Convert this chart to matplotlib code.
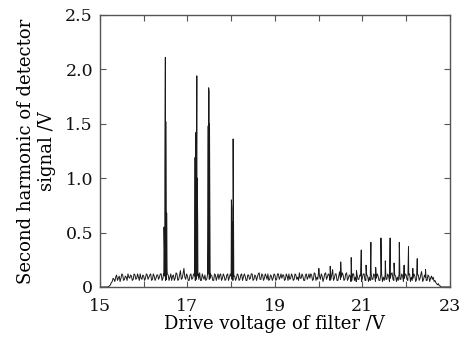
import numpy as np
import matplotlib
matplotlib.use("Agg")
import matplotlib.pyplot as plt

plt.rcParams['font.family'] = ['DejaVu Serif']

# Swept drive voltage (V) for the baseline record: two interleaved sample sets
base_x1 = np.linspace(15.0, 23.0, 201)
base_y1 = [
    0, 0, 0, 0, 0, 0.005, 0.02, 0.05, 0.07, 0.09,
    0.06, 0.10, 0.08, 0.11, 0.07, 0.09, 0.12, 0.08, 0.10, 0.07,
    0.11, 0.08, 0.09, 0.12, 0.07, 0.10, 0.08, 0.11, 0.09, 0.12,
    0.07, 0.10, 0.08, 0.11, 0.09, 0.12, 0.08, 0.10, 0.07, 0.11,
    0.09, 0.06, 0.11, 0.08, 0.12, 0.07, 0.15, 0.08, 0.17, 0.07,
    0.10, 0.06, 0.12, 0.08, 0.11, 0.07, 0.10, 0.13, 0.06, 0.09,
    0.11, 0.07, 0.12, 0.08, 0.10, 0.06, 0.11, 0.09, 0.07, 0.12,
    0.08, 0.10, 0.07, 0.12, 0.09, 0.11, 0.06, 0.10, 0.08, 0.11,
    0.07, 0.12, 0.09, 0.10, 0.06, 0.11, 0.08, 0.12, 0.07, 0.10,
    0.09, 0.13, 0.07, 0.11, 0.08, 0.10, 0.12, 0.07, 0.10, 0.08,
    0.11, 0.07, 0.12, 0.09, 0.08, 0.11, 0.07, 0.10, 0.12, 0.08,
    0.10, 0.07, 0.11, 0.09, 0.13, 0.08, 0.10, 0.06, 0.12, 0.09,
    0.08, 0.11, 0.07, 0.12, 0.09, 0.14, 0.07, 0.10, 0.08, 0.13,
    0.09, 0.11, 0.07, 0.16, 0.08, 0.12, 0.06, 0.14, 0.09, 0.11,
    0.07, 0.13, 0.08, 0.10, 0.06, 0.12, 0.09, 0.11, 0.07, 0.10,
    0.08, 0.12, 0.06, 0.10, 0.09, 0.13, 0.07, 0.11, 0.08, 0.10,
    0.06, 0.12, 0.09, 0.11, 0.07, 0.10, 0.08, 0.13, 0.06, 0.10,
    0.09, 0.12, 0.07, 0.10, 0.08, 0.11, 0.06, 0.12, 0.09, 0.08,
    0.10, 0.07, 0.11, 0.08, 0.12, 0.07, 0.09, 0.06, 0.10, 0.08,
    0.07, 0.05, 0.04, 0.02, 0.01, 0, 0, 0, 0, 0,
    0,
]
base_x2 = np.linspace(15.02, 22.98, 200)
base_y2 = [
    0, 0, 0, 0, 0, 0.01, 0.04, 0.08, 0.05, 0.11,
    0.08, 0.05, 0.12, 0.06, 0.10, 0.06, 0.09, 0.11, 0.06, 0.12,
    0.07, 0.12, 0.06, 0.08, 0.11, 0.06, 0.12, 0.07, 0.11, 0.06,
    0.12, 0.06, 0.11, 0.07, 0.12, 0.06, 0.11, 0.06, 0.12, 0.06,
    0.12, 0.10, 0.06, 0.13, 0.06, 0.11, 0.07, 0.12, 0.09, 0.12,
    0.06, 0.11, 0.07, 0.12, 0.06, 0.12, 0.07, 0.06, 0.12, 0.07,
    0.06, 0.12, 0.07, 0.11, 0.06, 0.12, 0.06, 0.12, 0.11, 0.06,
    0.12, 0.06, 0.11, 0.06, 0.12, 0.07, 0.12, 0.06, 0.12, 0.06,
    0.11, 0.06, 0.12, 0.06, 0.11, 0.07, 0.12, 0.06, 0.11, 0.06,
    0.12, 0.07, 0.12, 0.06, 0.12, 0.07, 0.06, 0.11, 0.06, 0.12,
    0.06, 0.12, 0.07, 0.12, 0.11, 0.06, 0.12, 0.06, 0.07, 0.12,
    0.06, 0.12, 0.07, 0.06, 0.08, 0.12, 0.06, 0.11, 0.07, 0.12,
    0.12, 0.06, 0.13, 0.06, 0.07, 0.10, 0.12, 0.05, 0.12, 0.07,
    0.12, 0.06, 0.11, 0.06, 0.12, 0.06, 0.10, 0.07, 0.13, 0.06,
    0.12, 0.06, 0.11, 0.05, 0.12, 0.06, 0.05, 0.07, 0.11, 0.05,
    0.12, 0.06, 0.11, 0.05, 0.06, 0.07, 0.12, 0.05, 0.12, 0.06,
    0.11, 0.05, 0.06, 0.07, 0.12, 0.05, 0.12, 0.07, 0.11, 0.05,
    0.06, 0.07, 0.12, 0.05, 0.12, 0.07, 0.11, 0.05, 0.06, 0.12,
    0.05, 0.11, 0.06, 0.12, 0.05, 0.11, 0.06, 0.11, 0.05, 0.10,
    0.09, 0.06, 0.03, 0.03, 0.01, 0, 0, 0, 0, 0,
]

# Absorption-line peaks (narrow spikes)
peak_x = [
    16.455, 16.465, 16.475, 16.485, 16.495, 16.505, 16.515, 16.525, 16.535,
    17.165, 17.175, 17.185, 17.195, 17.205, 17.215, 17.225, 17.235, 17.245,
    17.455, 17.465, 17.475, 17.485, 17.495, 17.505, 17.515, 17.525,
    17.995, 18.005, 18.015, 18.025, 18.035, 18.045, 18.055, 18.065,
    20.005, 20.265, 20.505, 20.745, 20.865, 20.975, 21.085, 21.195, 21.305,
    21.425, 21.525, 21.635, 21.725, 21.845, 21.955, 22.055, 22.155, 22.255,
    22.355, 22.445,
]
peak_y = [
    0.12, 0.55, 0.35, 1.10, 2.11, 1.52, 0.60, 0.68, 0.15,
    0.10, 1.19, 0.50, 1.42, 0.90, 1.94, 1.00, 0.58, 0.12,
    0.10, 0.40, 1.48, 1.83, 1.80, 1.50, 0.50, 0.12,
    0.10, 0.80, 0.72, 0.45, 0.60, 1.36, 0.45, 0.10,
    0.17, 0.19, 0.23, 0.27, 0.15, 0.34, 0.20, 0.41, 0.18,
    0.45, 0.24, 0.45, 0.22, 0.41, 0.20, 0.37, 0.17, 0.26,
    0.14, 0.16,
]

x = np.concatenate([base_x1, base_x2, peak_x])
y = np.concatenate([base_y1, base_y2, peak_y])
order = np.argsort(x, kind="stable")
x, y = x[order], y[order]

fig = plt.figure(figsize=(4.76, 3.38), dpi=100)
ax = fig.add_axes([0.210, 0.151, 0.735, 0.805])
ax.plot(x, y, color='#1a1a1a', lw=0.7)

ax.set_xlim(15, 23)
ax.set_ylim(0, 2.5)
ax.set_xticks([15, 17, 19, 21, 23])
ax.set_xticks([16, 18, 20, 22], minor=True)
ax.set_yticks([0, 0.5, 1.0, 1.5, 2.0, 2.5])
ax.set_yticklabels(['0', '0.5', '1.0', '1.5', '2.0', '2.5'])
ax.tick_params(which='both', direction='in', top=True, right=True,
               length=4, width=0.8, colors='#555555', labelcolor='#111111',
               labelsize=12.5)
ax.tick_params(axis='x', pad=8)
ax.tick_params(axis='y', pad=5)
for s in ax.spines.values():
    s.set_color('#555555')
    s.set_linewidth(1.0)

ax.set_xlabel('Drive voltage of filter /V', fontsize=13, labelpad=0)
ax.set_ylabel('Second harmonic of detector\nsignal /V', fontsize=13,
              labelpad=7, linespacing=1.2)

fig.savefig('out.png', dpi=100, facecolor='white')
